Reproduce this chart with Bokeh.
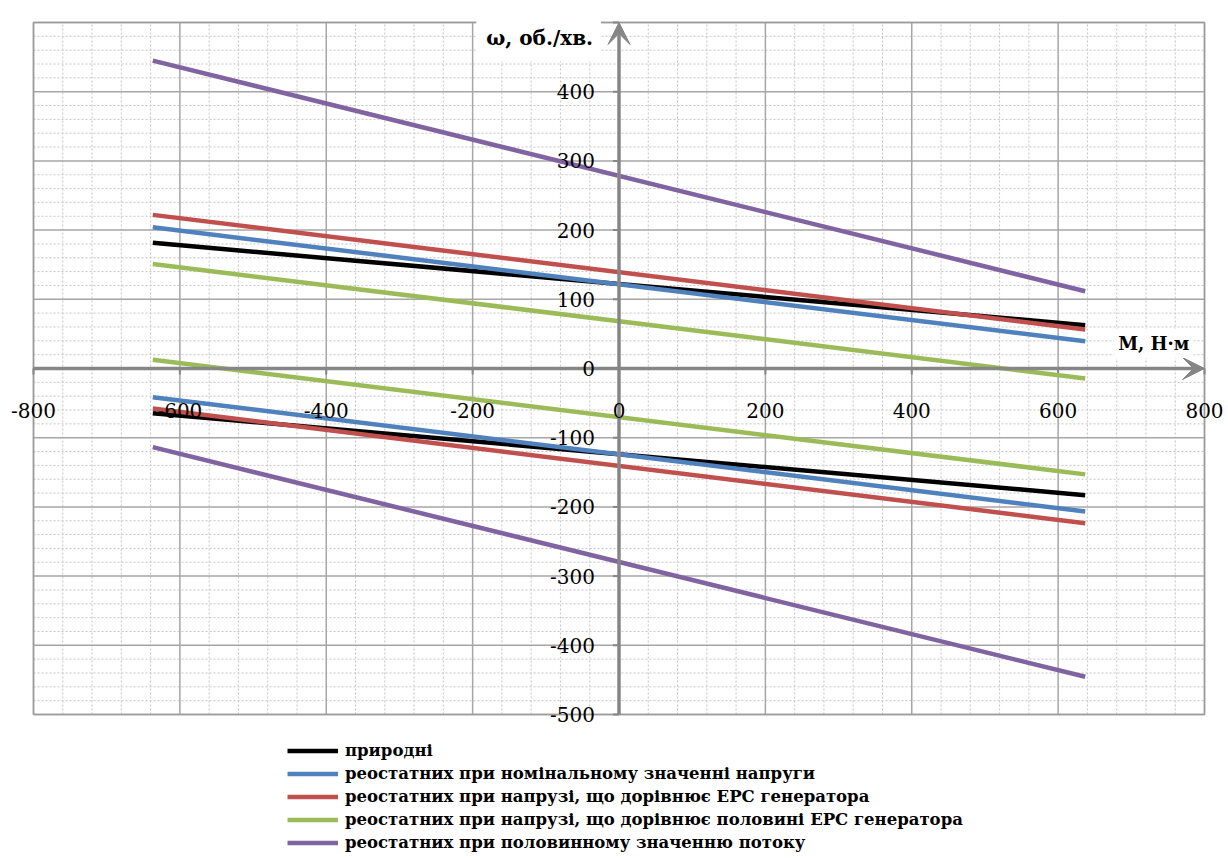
import math
from bokeh.plotting import figure
from bokeh.models import (Range1d, Arrow, VeeHead, Label,
                          LabelSet, ColumnDataSource, Legend, LegendItem)
from bokeh.embed import file_html
from bokeh.resources import INLINE
from bokeh.core.properties import value

# ---- data ----
M = [-637, 637]
natural_up = [181.6, 62.6]
natural_down = [-64.6, -183.0]
nominal_up = [204.0, 39.5]
nominal_down = [-41.4, -206.6]
emf_up = [222.0, 56.4]
emf_down = [-57.8, -223.5]
half_emf_up = [151.0, -14.5]
half_emf_down = [12.5, -153.0]
half_flux_up = [445.0, 111.7]
half_flux_down = [-113.7, -445.5]

series_names = [
    "природні",
    "реостатних при номінальному значенні напруги",
    "реостатних при напрузі, що дорівнює ЕРС генератора",
    "реостатних при напрузі, що дорівнює половині ЕРС генератора",
    "реостатних при половинному значенню потоку",
]
series_colors = ["#000000", "#4F81BD", "#C0504D", "#9BBB59", "#8064A2"]
series_up = [natural_up, nominal_up, emf_up, half_emf_up, half_flux_up]
series_down = [natural_down, nominal_down, emf_down, half_emf_down, half_flux_down]

x_ticks = [-800, -600, -400, -200, 0, 200, 400, 600, 800]
x_tick_labels = ["-800", "-600", "-400", "-200", "0", "200", "400", "600", "800"]
y_ticks = [-500, -400, -300, -200, -100, 0, 100, 200, 300, 400, 500]
y_tick_labels = ["-500", "-400", "-300", "-200", "-100", "0", "100", "200", "300", "400", "500"]
x_minor = list(range(-800, 801, 40))
y_minor = list(range(-500, 501, 20))

x_title = "M, Н·м"
y_title = "ω, об./хв."

FONT = "DejaVu Serif"
AXIS_COLOR = "#868686"

# ---- layout: the plotting box occupies px 33..1204 (x) and 22..714 (y) ----
W, H = 1228, 858
box_l, box_r, box_t, box_b = 33, 1204, 22, 714
xmin, xmax = x_ticks[0], x_ticks[-1]
ymin, ymax = y_ticks[0], y_ticks[-1]
sx = (box_r - box_l) / (xmax - xmin)
sy = (box_b - box_t) / (ymax - ymin)
x_range = Range1d(xmin - box_l / sx, xmax + (W - box_r) / sx)
y_range = Range1d(ymin - (H - box_b) / sy, ymax + box_t / sy)

p = figure(width=W, height=H, output_backend="svg", toolbar_location=None,
           x_range=x_range, y_range=y_range,
           x_axis_type=None, y_axis_type=None,
           min_border=0, min_border_left=0, min_border_right=0,
           min_border_top=0, min_border_bottom=0)
p.outline_line_color = None
p.background_fill_color = "white"
p.border_fill_color = "white"
p.xgrid.visible = False
p.ygrid.visible = False

# minor grid (dotted)
xm = [v for v in x_minor if v not in x_ticks]
ym = [v for v in y_minor if v not in y_ticks]
p.segment(x0=xm, y0=[ymin] * len(xm), x1=xm, y1=[ymax] * len(xm),
          line_color="#C4C4C4", line_width=1, line_dash="2 2")
p.segment(x0=[xmin] * len(ym), y0=ym, x1=[xmax] * len(ym), y1=ym,
          line_color="#C4C4C4", line_width=1, line_dash="2 2")
# major grid
p.segment(x0=x_ticks, y0=[ymin] * len(x_ticks), x1=x_ticks, y1=[ymax] * len(x_ticks),
          line_color="#A6A6A6", line_width=1.5)
p.segment(x0=[xmin] * len(y_ticks), y0=y_ticks, x1=[xmax] * len(y_ticks), y1=y_ticks,
          line_color="#A6A6A6", line_width=1.5)
# plot box outline
p.quad(left=[xmin], right=[xmax], bottom=[ymin], top=[ymax],
       fill_alpha=0, line_color="#9A9A9A", line_width=1.5)

# axes with arrows
p.add_layout(Arrow(end=VeeHead(size=22, fill_color=AXIS_COLOR, line_color=AXIS_COLOR),
                   x_start=xmin, y_start=0, x_end=xmax, y_end=0,
                   line_color=AXIS_COLOR, line_width=3.5))
p.add_layout(Arrow(end=VeeHead(size=22, fill_color=AXIS_COLOR, line_color=AXIS_COLOR),
                   x_start=0, y_start=ymin, x_end=0, y_end=ymax,
                   line_color=AXIS_COLOR, line_width=3.5))

# tick marks
p.ray(x=[0] * len(y_ticks), y=y_ticks, length=6, length_units="screen", angle=math.pi,
      line_color=AXIS_COLOR, line_width=2)
p.ray(x=x_ticks, y=[0] * len(x_ticks), length=6, length_units="screen", angle=-math.pi / 2,
      line_color=AXIS_COLOR, line_width=2)

# data lines
items = []
for name, col, up, down in zip(series_names, series_colors, series_up, series_down):
    r1 = p.line(M, up, line_color=col, line_width=4.5)
    p.line(M, down, line_color=col, line_width=4.5)
    items.append(LegendItem(label=name, renderers=[r1]))

# tick labels
xs = ColumnDataSource(dict(x=x_ticks, y=[0] * len(x_ticks), t=x_tick_labels))
p.add_layout(LabelSet(x="x", y="y", text="t", source=xs, y_offset=-42,
                      text_align="center", text_baseline="middle",
                      text_font=value(FONT), text_font_size="20px", text_color="black"))
ys = ColumnDataSource(dict(x=[0] * len(y_ticks), y=y_ticks, t=y_tick_labels))
p.add_layout(LabelSet(x="x", y="y", text="t", source=ys, x_offset=-24,
                      text_align="right", text_baseline="middle",
                      text_font=value(FONT), text_font_size="20px", text_color="black"))

# axis titles with white background
p.add_layout(Label(x=0, y=ymax, x_offset=-18, y_offset=-14, text=y_title,
                   text_align="right", text_baseline="middle",
                   text_font=FONT, text_font_style="bold", text_font_size="20px",
                   text_color="black",
                   background_fill_color="white",
                   padding=dict(left=10, right=8, top=14, bottom=12)))
p.add_layout(Label(x=xmax, y=0, x_offset=-11, y_offset=25, text=x_title,
                   text_align="right", text_baseline="middle",
                   text_font=FONT, text_font_style="bold", text_font_size="18px",
                   text_color="black",
                   background_fill_color="white", padding=4))

legend = Legend(items=items, location=(287, 4), orientation="vertical",
                margin=0, padding=0, spacing=0, label_standoff=7,
                glyph_width=51, glyph_height=23, label_height=23,
                label_text_font=FONT, label_text_font_size="16.5px",
                label_text_font_style="bold",
                label_text_color="black",
                border_line_alpha=0, background_fill_alpha=0)
p.add_layout(legend, "center")

open("out.html", "w").write(file_html(p, INLINE))
